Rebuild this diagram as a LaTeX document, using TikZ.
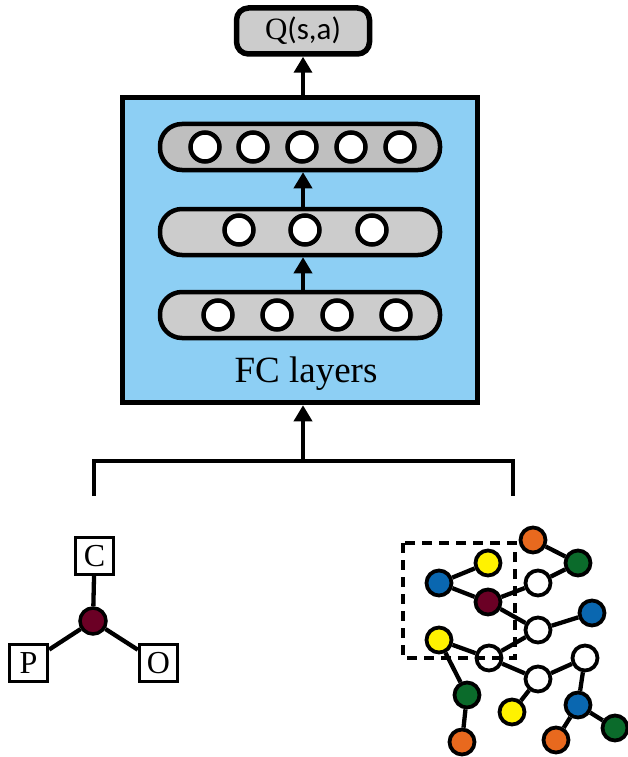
\documentclass[tikz,border=0pt]{standalone}
\usepackage{fontspec}
\setmainfont{Liberation Serif}
\newfontfamily\qsans{Carlito}
\usetikzlibrary{arrows.meta,calc}
\definecolor{fcblue}{HTML}{8DCFF4}
\definecolor{laygray}{HTML}{CCCCCC}
\definecolor{laytop}{HTML}{BFBFBF}
\definecolor{gorange}{HTML}{E8691E}
\definecolor{ggreen}{HTML}{0B6B2B}
\definecolor{gyellow}{HTML}{FFF200}
\definecolor{gblue}{HTML}{0A67B0}
\definecolor{gred}{HTML}{6B0025}
\tikzset{
  qbox/.style={draw, line width=5.5pt, fill=laygray, rounded corners=12pt, minimum width=133pt, minimum height=46pt, inner sep=0pt},
  fcbox/.style={draw, line width=5.5pt, fill=fcblue, minimum width=355pt, minimum height=305pt, inner sep=0pt},
  layer/.style={draw, line width=4.5pt, rounded corners=22pt, minimum width=280pt, minimum height=46pt, inner sep=0pt},
  neuron/.style={circle, draw, line width=4.5pt, fill=white, minimum size=29pt, inner sep=0pt},
  arr/.style={line width=3.5pt, -{Triangle[length=16pt,width=18pt]}},
  conn/.style={line width=3.3pt},
  lbox/.style={draw, line width=3.3pt, fill=white, minimum width=38pt, minimum height=37pt, inner sep=0pt, font=\fontsize{32}{34}\selectfont},
  gn/.style={circle, draw, line width=3.8pt, minimum size=25pt, inner sep=0pt},
  ge/.style={line width=4.3pt},
}
\begin{document}
\begin{tikzpicture}[x=1pt,y=-1pt]
\useasboundingbox (0,0) rectangle (628,757);
% Q box
\node[qbox] (q) at (303,31) {\fontsize{31}{33}\selectfont Q\qsans(s,a)};
% FC box
\node[fcbox] (fc) at (300,250) {};
\node[layer, fill=laytop] (l3) at (300,147) {};
\node[layer, fill=laygray] (l2) at (300,232) {};
\node[layer, fill=laygray] (l1) at (300,315) {};
% neurons
\foreach \x [count=\i] in {205,253,302,351,400} \node[neuron] (t\i) at (\x,147) {};
\foreach \x [count=\i] in {239,305,372} \node[neuron] (m\i) at (\x,230) {};
\foreach \x [count=\i] in {218,277,337,396} \node[neuron] (b\i) at (\x,315) {};
\node[font=\fontsize{37}{39}\selectfont] (fclab) at (306,374) {FC layers};
% arrows
\draw[arr] (l1.north -| q) -- (l2.south -| q);
\draw[arr] (l2.north -| q) -- (l3.south -| q);
\draw[arr] (fc.north -| q) -- (q.south);
% bottom connector
\coordinate (hub) at (303,461);
\coordinate (jl) at (94,496);
\coordinate (jr) at (513,496);
\draw[conn] (jl) |- (hub) -| (jr);
\draw[arr] (hub) -- (hub |- fc.south);
% molecule
\node[lbox] (C) at (94.5,556) {C};
\node[lbox] (P) at (28.5,663) {P};
\node[lbox] (O) at (158.5,663) {O};
\node[circle, draw, line width=3.5pt, fill=gred, minimum size=26pt, inner sep=0pt] (mc) at (93,621) {};
\draw[ge] (mc) -- (C);
\draw[ge] (mc) -- (P);
\draw[ge] (mc) -- (O);
% graph
\node[gn, fill=gorange] (n1) at (533,540) {};
\node[gn, fill=ggreen] (n2) at (578,563) {};
\node[gn, fill=gyellow] (n3) at (488,563) {};
\node[gn, fill=gblue] (n4) at (439,583) {};
\node[gn, fill=white] (w1) at (538,583) {};
\node[gn, fill=gred] (n5) at (488,602) {};
\node[gn, fill=gblue] (n6) at (592,613) {};
\node[gn, fill=white] (w2) at (538,630) {};
\node[gn, fill=gyellow] (n7) at (439,640) {};
\node[gn, fill=white] (w3) at (489,658) {};
\node[gn, fill=white] (w4) at (585,658) {};
\node[gn, fill=white] (w5) at (538,679) {};
\node[gn, fill=ggreen] (n8) at (467,695) {};
\node[gn, fill=gyellow] (n9) at (512,712) {};
\node[gn, fill=gblue] (n10) at (578,705) {};
\node[gn, fill=ggreen] (n11) at (615,728) {};
\node[gn, fill=gorange] (n12) at (462,742) {};
\node[gn, fill=gorange] (n13) at (556,740) {};
\draw[ge] (n1) -- (n2);
\draw[ge] (n2) -- (w1);
\draw[ge] (w1) -- (n5);
\draw[ge] (n4) -- (n3);
\draw[ge] (n4) -- (n5);
\draw[ge] (n5) -- (w2);
\draw[ge] (w2) -- (n6);
\draw[ge] (w2) -- (w3);
\draw[ge] (n7) -- (w3);
\draw[ge] (w3) -- (w5);
\draw[ge] (w5) -- (w4);
\draw[ge] (w5) -- (n9);
\draw[ge] (w4) -- (n10);
\draw[ge] (n10) -- (n11);
\draw[ge] (n10) -- (n13);
\draw[ge] (n7) -- (n8);
\draw[ge] (n8) -- (n12);
% dashed selection
\coordinate (d1) at (403,543);
\coordinate (d2) at (515,658);
\draw[line width=3.8pt, dash pattern=on 10pt off 7pt] (d1) rectangle (d2);
\end{tikzpicture}
\end{document}
